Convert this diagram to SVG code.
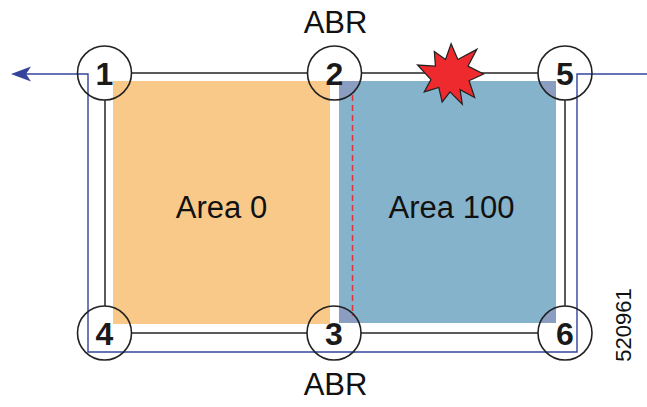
<svg xmlns="http://www.w3.org/2000/svg" width="647" height="407" viewBox="0 0 647 407">
<style>
.frame{fill:none;stroke:#333;stroke-width:1.6}
.ring{fill:none;stroke:#222;stroke-width:1.6}
.ringbg{fill:#fff;stroke:none}
.num{font-family:"Liberation Sans",Arial,sans-serif;font-weight:bold;font-size:32px;fill:#1a1a1a;text-anchor:middle}
.lbl{font-family:"Liberation Sans",Arial,sans-serif;font-size:31px;fill:#111;text-anchor:middle}
.route{fill:none;stroke:#33449c;stroke-width:1.4}
</style>
<defs>
<clipPath id="circs">
<circle cx="334.5" cy="73" r="27"/>
<circle cx="565" cy="73" r="27"/>
<circle cx="334" cy="333" r="27"/>
<circle cx="565" cy="333" r="27"/>
</clipPath>
</defs>
<g id="frame">
<rect class="frame" x="105" y="73" width="460" height="260"/>
</g>
<g id="circle-backgrounds">
<circle class="ringbg" cx="104.5" cy="73" r="27"/>
<circle class="ringbg" cx="334.5" cy="73" r="27"/>
<circle class="ringbg" cx="565" cy="73" r="27"/>
<circle class="ringbg" cx="104.5" cy="333" r="27"/>
<circle class="ringbg" cx="334" cy="333" r="27"/>
<circle class="ringbg" cx="565" cy="333" r="27"/>
</g>
<g id="area0">
<rect x="113" y="81" width="217" height="243" fill="#f9c98a"/>
<text class="lbl" x="221.5" y="218">Area 0</text>
</g>
<g id="area100">
<rect x="339" y="81" width="217" height="242" fill="#86b3cc"/>
<rect x="339" y="81" width="217" height="242" fill="#8b9ec2" clip-path="url(#circs)"/>
<text class="lbl" x="451.5" y="218">Area 100</text>
</g>
<g id="connectors">
<path class="route" d="M647,74 H577 V352 H88 V74 H26"/>
<path d="M11,74 L31,66.5 L26,74 L31,81.5 Z" fill="#33449c"/>
<line x1="352.5" y1="95" x2="352.5" y2="316" stroke="#e0323c" stroke-width="1.5" stroke-dasharray="6,4"/>
</g>
<g id="failure">
<polygon transform="translate(450,74) scale(1.12) translate(-450,-74)" points="451,47 457,61 474,52 466,67 480,74 467,80 472,95 459,88 461,101 450,90 443,99 440,86 427,90 433,79 421,66 437,67 436,54 446,61" fill="#ee2a2e" stroke="#222" stroke-width="1.1" stroke-linejoin="miter"/>
</g>
<g id="node1"><circle class="ring" cx="104.5" cy="73" r="27"/><text class="num" x="104.5" y="85">1</text></g>
<g id="node2"><circle class="ring" cx="334.5" cy="73" r="27"/><text class="num" x="334.5" y="85">2</text></g>
<g id="node5"><circle class="ring" cx="565" cy="73" r="27"/><text class="num" x="565" y="85">5</text></g>
<g id="node4"><circle class="ring" cx="104.5" cy="333" r="27"/><text class="num" x="104.5" y="345">4</text></g>
<g id="node3"><circle class="ring" cx="334" cy="333" r="27"/><text class="num" x="334" y="345">3</text></g>
<g id="node6"><circle class="ring" cx="565" cy="333" r="27"/><text class="num" x="565" y="345">6</text></g>
<text class="lbl" x="335.5" y="33">ABR</text>
<text class="lbl" x="335.5" y="395">ABR</text>
<text font-family="'Liberation Sans',Arial,sans-serif" font-size="22" fill="#111" text-anchor="middle" transform="translate(631,325) rotate(-90)">520961</text>
</svg>
